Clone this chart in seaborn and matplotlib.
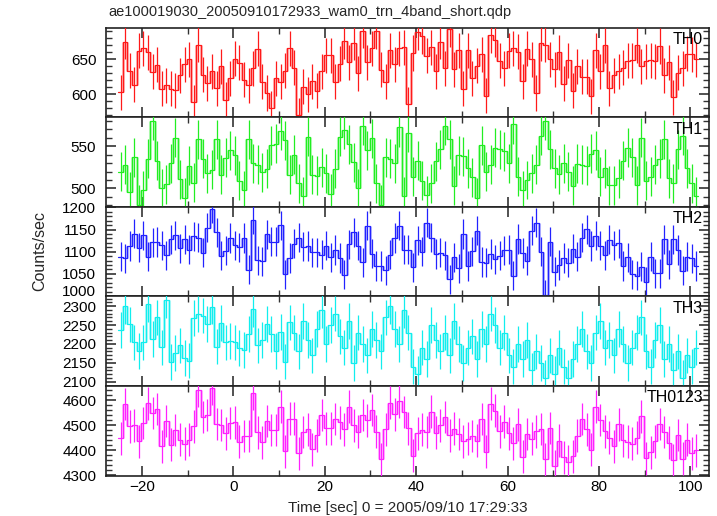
import numpy as np
import pandas as pd
import matplotlib
matplotlib.use("Agg")
import matplotlib.pyplot as plt
from matplotlib.ticker import MultipleLocator
import matplotlib.transforms as mtransforms
import seaborn as sns

TITLE = "ae100019030_20050910172933_wam0_trn_4band_short.qdp"
XLABEL = "Time [sec] 0 = 2005/09/10 17:29:33"
YLABEL = "Counts/sec"

T_START = -25.2   # left edge of first bin (sec)
BIN_WIDTH = 1.0

panel_names = ["TH0", "TH1", "TH2", "TH3", "TH0123"]
panel_colors = ["#ff1a1a", "#22ee22", "#2222ff", "#11eeee", "#ff22ff"]
panel_errors = [25, 23, 33, 47, 66]

th0 = [603, 675, 634, 614, 662, 666, 660, 632, 642, 608, 613, 608, 606, 627, 643, 650,
       589, 671, 628, 616, 633, 609, 640, 592, 623, 651, 645, 621, 613, 637, 665, 618,
       602, 580, 623, 618, 634, 666, 638, 570, 611, 600, 619, 605, 633, 656, 656, 618,
       644, 676, 646, 674, 630, 691, 646, 666, 690, 635, 618, 663, 643, 666, 667, 586,
       659, 689, 683, 655, 667, 633, 675, 637, 693, 636, 663, 608, 663, 623, 641, 657,
       598, 684, 678, 648, 637, 662, 666, 661, 619, 665, 650, 602, 673, 671, 650, 636,
       660, 615, 649, 605, 640, 625, 625, 597, 663, 633, 670, 609, 627, 633, 638, 648,
       649, 670, 640, 647, 649, 647, 669, 627, 646, 596, 631, 637, 658, 657, 650]

th1 = [520, 528, 496, 537, 481, 498, 535, 580, 533, 500, 505, 530, 560, 511, 489, 527,
       507, 558, 535, 518, 522, 558, 516, 536, 545, 539, 509, 498, 558, 530, 528, 519,
       523, 551, 553, 568, 557, 516, 540, 506, 491, 561, 516, 515, 525, 518, 494, 523,
       561, 569, 552, 531, 500, 574, 545, 559, 506, 481, 537, 535, 530, 572, 491, 566,
       514, 533, 509, 492, 506, 532, 546, 574, 558, 503, 539, 538, 524, 513, 489, 551,
       520, 528, 548, 546, 544, 530, 576, 514, 498, 510, 518, 528, 562, 580, 546, 524,
       517, 530, 520, 503, 529, 528, 527, 541, 545, 514, 524, 504, 504, 512, 533, 548,
       537, 504, 560, 509, 514, 528, 535, 558, 512, 506, 546, 562, 524, 506, 491]

th2 = [1089, 1085, 1113, 1141, 1109, 1137, 1089, 1121, 1122, 1115, 1092, 1128, 1137, 1108,
       1128, 1105, 1135, 1132, 1098, 1154, 1197, 1144, 1091, 1102, 1131, 1115, 1110, 1131,
       1059, 1172, 1081, 1078, 1139, 1123, 1123, 1160, 1049, 1086, 1118, 1132, 1111, 1113,
       1099, 1099, 1093, 1114, 1087, 1104, 1086, 1048, 1117, 1144, 1114, 1076, 1159, 1096,
       1068, 1068, 1058, 1093, 1131, 1159, 1105, 1105, 1065, 1126, 1100, 1166, 1132, 1095,
       1098, 1092, 1038, 1087, 1063, 1140, 1068, 1101, 1148, 1077, 1075, 1095, 1083, 1091,
       1103, 1105, 1046, 1129, 1097, 1080, 1148, 1166, 1100, 1003, 1123, 1055, 1070, 1086,
       1075, 1107, 1089, 1132, 1151, 1113, 1136, 1114, 1092, 1127, 1115, 1119, 1068, 1087,
       1049, 1046, 1066, 1032, 1089, 1051, 1051, 1128, 1072, 1128, 1104, 1057, 1089, 1085,
       1068]

th3 = [2237, 2301, 2252, 2204, 2181, 2204, 2306, 2213, 2270, 2191, 2316, 2152, 2176, 2196,
       2163, 2156, 2269, 2279, 2275, 2253, 2299, 2193, 2255, 2204, 2208, 2204, 2189, 2184,
       2226, 2293, 2196, 2211, 2253, 2226, 2181, 2231, 2153, 2257, 2230, 2180, 2260, 2210,
       2170, 2240, 2290, 2200, 2250, 2280, 2220, 2190, 2260, 2150, 2230, 2200, 2170, 2240,
       2210, 2180, 2270, 2300, 2240, 2200, 2290, 2230, 2140, 2120, 2190, 2160, 2250, 2210,
       2180, 2230, 2170, 2260, 2200, 2150, 2190, 2220, 2160, 2240, 2200, 2280, 2250, 2190,
       2230, 2170, 2140, 2200, 2160, 2210, 2130, 2180, 2150, 2110, 2170, 2120, 2190, 2140,
       2110, 2160, 2200, 2240, 2180, 2150, 2230, 2260, 2190, 2210, 2170, 2240, 2200, 2150,
       2190, 2230, 2270, 2180, 2140, 2210, 2250, 2160, 2200, 2130, 2180, 2110, 2170, 2140,
       2190]

th0123 = [4448, 4585, 4495, 4499, 4435, 4509, 4589, 4549, 4565, 4416, 4517, 4421, 4481,
          4441, 4425, 4441, 4496, 4640, 4533, 4541, 4649, 4505, 4501, 4467, 4509, 4512,
          4433, 4457, 4457, 4628, 4472, 4431, 4517, 4481, 4481, 4575, 4395, 4527, 4526,
          4388, 4473, 4484, 4404, 4459, 4541, 4488, 4487, 4525, 4511, 4483, 4575, 4499,
          4474, 4541, 4520, 4561, 4474, 4364, 4483, 4591, 4544, 4597, 4553, 4487, 4378,
          4468, 4482, 4473, 4555, 4470, 4499, 4533, 4459, 4486, 4465, 4436, 4445, 4457,
          4438, 4525, 4393, 4587, 4559, 4475, 4514, 4467, 4428, 4504, 4374, 4465, 4446,
          4476, 4485, 4364, 4489, 4335, 4437, 4371, 4354, 4375, 4458, 4525, 4483, 4401,
          4574, 4521, 4476, 4450, 4416, 4504, 4439, 4433, 4425, 4450, 4536, 4368, 4392,
          4436, 4505, 4473, 4430, 4360, 4461, 4366, 4441, 4388, 4399]

series = [th0, th1, th2, th3, th0123]

ylims = [(567.6, 695.4), (478.5, 584.2), (999.3, 1201.8), (2089.0, 2326.0), (4298.0, 4658.0)]
ymajor = [50, 50, 50, 50, 100]
yminor = [10, 10, 10, 10, 20]

sns.set_theme(style="ticks")
plt.rcParams["font.family"] = ["Liberation Sans", "DejaVu Sans"]
plt.rcParams["font.size"] = 11

fig = plt.figure(figsize=(7.17, 5.16), dpi=100)
axes = fig.subplots(5, 1, sharex=True)
fig.subplots_adjust(left=106 / 717, right=709 / 717, top=1 - 27.5 / 516,
                    bottom=1 - 475.5 / 516, hspace=0)

for ax, name, col, err, vals, yl, ymj, ymn in zip(axes, panel_names, panel_colors,
                                                  panel_errors, series, ylims, ymajor, yminor):
    v = np.asarray(vals, dtype=float)
    n = len(v)
    edges = T_START + BIN_WIDTH * np.arange(n + 1)
    centers = edges[:-1] + BIN_WIDTH / 2
    df = pd.DataFrame({"t": edges, "rate": np.append(v, v[-1])})
    # light step risers
    ax.vlines(edges[1:-1], v[:-1], v[1:], color=col, alpha=0.3, lw=2.2, zorder=2)
    # error bars
    ax.vlines(centers, v - err, v + err, color=col, lw=0.9, zorder=3)
    # histogram step line
    sns.lineplot(data=df, x="t", y="rate", drawstyle="steps-post", color=col, lw=0.9,
                 estimator=None, errorbar=None, sort=True, ax=ax, legend=False, zorder=4)
    ax.set_ylim(*yl)
    ax.yaxis.set_major_locator(MultipleLocator(ymj))
    ax.yaxis.set_minor_locator(MultipleLocator(ymn))
    ax.xaxis.set_major_locator(MultipleLocator(20))
    ax.xaxis.set_minor_locator(MultipleLocator(10))
    ax.set_xlim(-27.9, 104.1)
    ax.tick_params(which="both", direction="in", top=True, right=True, colors="#333333",
                   labelcolor="black", labelsize=11)
    ax.tick_params(which="major", length=7, width=1.2)
    ax.tick_params(which="minor", length=4, width=1)
    ax.tick_params(axis="y", which="major", pad=7)
    ax.set_xlabel("")
    ax.set_ylabel("")
    for sp in ax.spines.values():
        sp.set_linewidth(1.2)
        sp.set_color("#222222")
    ax.text(1 - 6 / 603, 0.95, name, transform=ax.transAxes, ha="right", va="top",
            fontsize=11.5, color="black")

axes[-1].tick_params(axis="x", labelbottom=True)
for ax in axes[:-1]:
    ax.tick_params(axis="x", labelbottom=False)

# nudge the bottom-most label of the TH2 panel up a little so it clears TH3's top label
fig.canvas.draw()
for lab in axes[2].get_yticklabels():
    if lab.get_text().replace("\u2212", "-") == "1000":
        lab.set_transform(lab.get_transform() +
                          mtransforms.ScaledTranslation(0, 4 / 72, fig.dpi_scale_trans))

fig.text(108 / 717, 1 - 12 / 516, TITLE, ha="left", va="center", fontsize=10.5)
fig.text(407.5 / 717, 1 - 508 / 516, XLABEL, ha="center", va="center", fontsize=11)
fig.text(40 / 717, 1 - 251 / 516, YLABEL, ha="center", va="center", rotation=90, fontsize=11.5)

fig.savefig("out.png", dpi=100, facecolor="white")
